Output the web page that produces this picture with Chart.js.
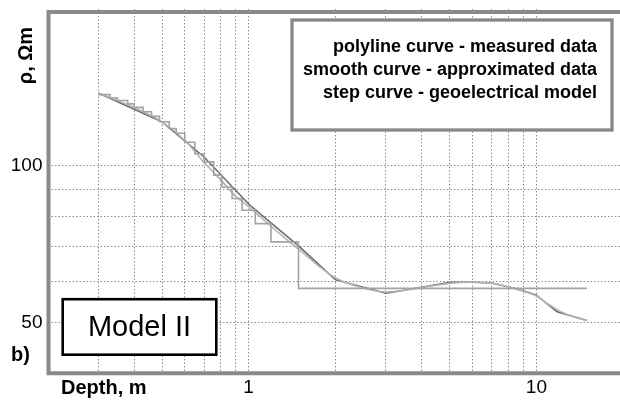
<!DOCTYPE html>
<html>
<head>
<meta charset="utf-8">
<script src="https://cdn.jsdelivr.net/npm/chart.js@4"></script>
<style>
  html, body { margin: 0; padding: 0; background: #fff; overflow: hidden; }
  #wrap { width: 623px; height: 400px; position: relative; }
</style>
</head>
<body>
<div id="wrap"><canvas id="chart"></canvas></div>
<script>
// Resistivity vs depth, log-log, Model II

// measured data (polyline)
const measuredDepth = [0.3, 0.5, 0.7, 1.0, 1.5, 2.0, 3.0, 4.0, 5.0, 6.0, 7.0, 8.0, 9.0, 10, 11.8, 15];
const measuredRho   = [138, 121.5, 104, 84.5, 70, 60.5, 57, 58.5, 59.8, 59.8, 59.6, 58.6, 57.6, 56.5, 52.5, 50.5];

// approximated data (smooth)
const smoothDepth = [0.3, 0.4, 0.5, 0.6, 0.7, 0.8, 0.9, 1.0, 1.2, 1.5, 2.0, 2.5, 3.0, 4.0, 5.0, 6.0, 7.0, 8.0, 9.0, 10, 11, 12, 13, 15];
const smoothRho   = [138, 129.5, 121.5, 112, 101.5, 94, 87.5, 83.5, 76.5, 69, 61, 58.3, 57.3, 58.4, 59.5, 59.8, 59.5, 58.6, 57.5, 56.3, 54.3, 52.7, 51.7, 50.5];

// geoelectrical model (layer tops and resistivities)
const layerTop = [0.3, 0.33, 0.35, 0.38, 0.40, 0.43, 0.46, 0.49, 0.53, 0.56, 0.60, 0.65, 0.70, 0.756, 0.808, 0.876, 0.949, 1.055, 1.196, 1.49, 15];
const layerRho = [137, 135, 133.5, 131.5, 129.5, 127, 124.5, 121.5, 118, 115.5, 111, 105.5, 101.8, 96, 91.1, 86.6, 82.2, 77.5, 71.5, 58.2, 58.2];

// axes
const xGrid = [0.3, 0.4, 0.5, 0.6, 0.7, 0.8, 0.9, 1, 2, 3, 4, 5, 6, 7, 8, 9, 10];
const xLabels = [1, 10];
const yGrid = [50, 60, 70, 80, 90, 100];
const yLabels = [50, 100];

const legendLines = [
  'polyline curve - measured data',
  'smooth curve - approximated data',
  'step curve - geoelectrical model',
];

const FONT = '"Liberation Sans", Arial, sans-serif';

const pts = (xs, ys) => xs.map((x, i) => ({ x, y: ys[i] }));

const decor = {
  id: 'decor',
  afterDraw(chart) {
    const { ctx, chartArea: a } = chart;
    ctx.save();

    // frame (left, top, bottom)
    ctx.strokeStyle = '#8a8a8a';
    ctx.lineWidth = 4;
    ctx.beginPath();
    ctx.moveTo(a.right + 10, a.top + 3);
    ctx.lineTo(a.left + 1, a.top + 3);
    ctx.lineTo(a.left + 1, a.bottom);
    ctx.lineTo(a.right + 10, a.bottom);
    ctx.stroke();

    // legend box
    ctx.fillStyle = '#fff';
    ctx.fillRect(292, 20, 320, 110);
    ctx.strokeStyle = '#888';
    ctx.lineWidth = 3.3;
    ctx.strokeRect(292, 20, 320, 110);
    ctx.fillStyle = '#000';
    ctx.font = 'bold 18px ' + FONT;
    ctx.textAlign = 'right';
    ctx.textBaseline = 'alphabetic';
    legendLines.forEach((t, i) => ctx.fillText(t, 597, 52 + i * 23));

    // model label box
    ctx.fillStyle = '#fff';
    ctx.fillRect(62.7, 299.2, 153.6, 55.5);
    ctx.strokeStyle = '#000';
    ctx.lineWidth = 2.6;
    ctx.strokeRect(62.7, 299.2, 153.6, 55.5);
    ctx.fillStyle = '#000';
    ctx.font = '29px ' + FONT;
    ctx.textAlign = 'center';
    ctx.fillText('Model II', 139.5, 336);

    // axis titles and panel letter
    ctx.font = 'bold 20px ' + FONT;
    ctx.textAlign = 'left';
    ctx.fillText('Depth, m', 61, 394);
    ctx.fillText('b)', 11, 361);

    ctx.save();
    ctx.translate(32, 55.5);
    ctx.rotate(-Math.PI / 2);
    ctx.textAlign = 'center';
    ctx.fillText('ρ, Ωm', 0, 0);
    ctx.restore();

    ctx.restore();
  },
};

const gridStyle = { color: '#8c8c8c', lineWidth: 1, drawTicks: false };
const borderStyle = { display: false, dash: [1.5, 2] };

const noPad = s => { s.paddingTop = 0; s.paddingBottom = 0; s.paddingLeft = 0; s.paddingRight = 0; };

new Chart(document.getElementById('chart'), {
  type: 'line',
  data: {
    datasets: [
      {
        label: 'step curve - geoelectrical model',
        data: pts(layerTop, layerRho),
        stepped: 'before',
        borderColor: '#a3a3a3',
        borderWidth: 1.6,
        pointRadius: 0,
      },
      {
        label: 'smooth curve - approximated data',
        data: pts(smoothDepth, smoothRho),
        cubicInterpolationMode: 'monotone',
        borderColor: '#b5b5b5',
        borderWidth: 1.6,
        pointRadius: 0,
      },
      {
        label: 'polyline curve - measured data',
        data: pts(measuredDepth, measuredRho),
        tension: 0,
        borderColor: '#666',
        borderWidth: 1.5,
        pointRadius: 0,
      },
    ],
  },
  options: {
    responsive: true,
    maintainAspectRatio: false,
    animation: false,
    layout: { padding: { top: 9, left: 0, right: 0, bottom: 0 } },
    plugins: { legend: { display: false }, tooltip: { enabled: false } },
    scales: {
      x: {
        type: 'logarithmic',
        min: 0.2,
        max: 20,
        grid: gridStyle,
        border: borderStyle,
        afterBuildTicks: s => { s.ticks = xGrid.map(v => ({ value: v })); },
        afterFit: s => { s.height = 26.7; noPad(s); },
        ticks: {
          autoSkip: false,
          maxRotation: 0,
          padding: 3,
          color: '#000',
          font: { family: FONT, size: 19 },
          callback: v => (xLabels.includes(v) ? String(v) : ''),
        },
      },
      y: {
        type: 'logarithmic',
        min: 40,
        max: 200,
        grid: gridStyle,
        border: borderStyle,
        afterBuildTicks: s => { s.ticks = yGrid.map(v => ({ value: v })); },
        afterFit: s => { s.width = 47.5; noPad(s); },
        ticks: {
          autoSkip: false,
          padding: 5,
          color: '#000',
          font: { family: FONT, size: 19 },
          callback: v => (yLabels.includes(v) ? String(v) : ''),
        },
      },
    },
  },
  plugins: [decor],
});
</script>
</body>
</html>
